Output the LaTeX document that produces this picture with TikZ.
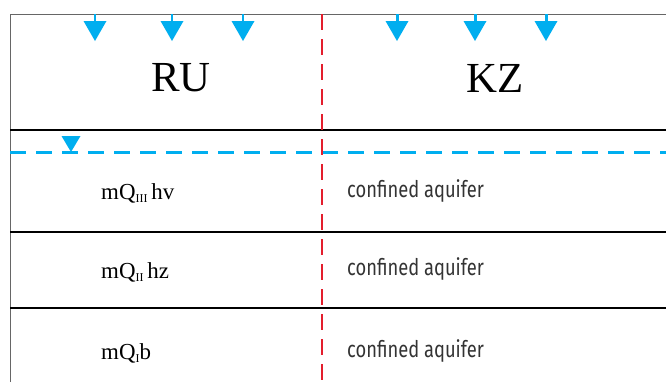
\documentclass[tikz,border=0pt]{standalone}
\usepackage{fontspec}
\setmainfont{Liberation Serif}
\newfontfamily\labelsans{Fira Sans}
\definecolor{rain}{HTML}{00AEEF}
\definecolor{border}{HTML}{E31E2D}
\definecolor{note}{HTML}{333333}
\tikzset{
  region/.style={font=\fontsize{43}{43}\selectfont, inner sep=0pt},
  layer/.style={font=\fontsize{23}{23}\selectfont, anchor=base west, inner sep=0pt},
  aquifer/.style={font=\labelsans\fontsize{23}{23}\selectfont, text=note, anchor=west, inner sep=0pt, xscale=0.8},
  bed/.style={line width=1.3pt, black},
  infil/.style={rain, line width=3pt},
  drop/.style={rain, fill=rain},
}
\newcommand{\sub}[1]{\raisebox{-0.3ex}{\fontsize{12}{12}\selectfont #1}}
\begin{document}
\begin{tikzpicture}[x=1bp,y=-1bp]
\useasboundingbox (0,0) rectangle (666,382);
% frame
\draw[gray!80!black, line width=1pt] (10,382) -- (10,14) -- (666,14);
% layer boundaries
\draw[bed] (10,130) -- (666,130);
\draw[bed] (10,232) -- (666,232);
\draw[bed] (10,308) -- (666,308);
% water table
\draw[rain, line width=3pt, dash pattern=on 16bp off 10bp] (10,152) -- (666,152);
\fill[drop] (61.5,136) -- (80.5,136) -- (71,152) -- cycle;
% national border
\draw[border, line width=2.8pt, dash pattern=on 16bp off 9bp] (322,14) -- (322,382);
% infiltration arrows
\foreach \x in {95,172,243,397,475,546}{
  \draw[infil] (\x,14) -- (\x,24);
  \fill[drop] (\x-11.5,21) -- (\x+11.5,21) -- (\x,41) -- cycle;
}
% labels
\node[region] (ru) at (181,78) {RU};
\node[region] (kz) at (495,78) {KZ};
\node[layer] (l3) at (101,199) {mQ\sub{III}\,hv};
\node[layer] (l2) at (101,278) {mQ\sub{II}\,hz};
\node[layer] (l1) at (101,359) {mQ\sub{I}b};
\node[aquifer] (a3) at (347,191) {confined aquifer};
\node[aquifer] (a2) at (347,269) {confined aquifer};
\node[aquifer] (a1) at (347,351) {confined aquifer};
\end{tikzpicture}
\end{document}
